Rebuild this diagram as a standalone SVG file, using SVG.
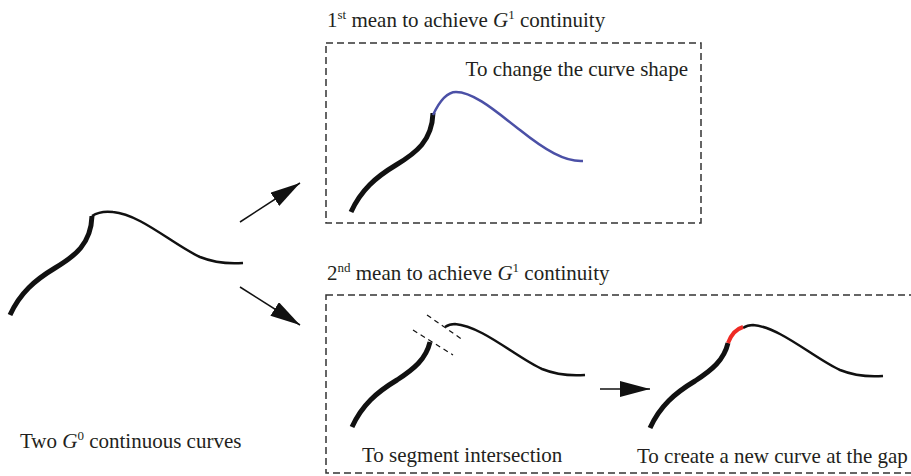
<svg xmlns="http://www.w3.org/2000/svg" width="911" height="476" viewBox="0 0 911 476">
<style>
text{font-family:"Liberation Serif","Times New Roman",serif;font-size:21px;fill:#231f20}
.sup{font-size:13px}
.thick{fill:none;stroke:#111;stroke-width:5;stroke-linecap:butt}
.thin{fill:none;stroke:#111;stroke-width:2.5}
.box{fill:none;stroke:#333;stroke-width:1.5;stroke-dasharray:7 4}
.arr{stroke:#111;stroke-width:1.5;fill:none}
.cut{stroke:#111;stroke-width:1.2;stroke-dasharray:5 4}
</style>
<defs>
<marker id="ah" markerUnits="userSpaceOnUse" markerWidth="32" markerHeight="18" refX="30" refY="8" orient="auto">
<path d="M0,0 L30,8 L0,16 z" fill="#111"/>
</marker>
<path id="thickFull" d="M10,315 C20,293 35,280 55,268 C75,256 91,244 92,216"/>
<path id="thinFull" d="M92,216 C98,212 105,211 113,212 C140,214 175,246 200,257 C215,263 230,264 243,263"/>
<path id="thickCut" d="M10,315 C20,293 35,280 55,268 C72,257 84,247 88,230"/>
<path id="thinCut" d="M103,215 C106,213 110,212 113,212 C140,214 175,246 200,257 C215,263 230,264 243,263"/>
</defs>

<g id="source">
<use href="#thickFull" class="thick"/>
<use href="#thinFull" class="thin"/>
<text x="20" y="448">Two <tspan font-style="italic">G</tspan><tspan class="sup" dy="-8">0</tspan><tspan dy="8"> continuous curves</tspan></text>
</g>

<g id="mean1">
<rect class="box" x="326" y="43" width="375" height="180"/>
<text x="327" y="27">1<tspan class="sup" dy="-8">st</tspan><tspan dy="8"> mean to achieve </tspan><tspan font-style="italic">G</tspan><tspan class="sup" dy="-8">1</tspan><tspan dy="8"> continuity</tspan></text>
<text x="688" y="76" text-anchor="end">To change the curve shape</text>
<g transform="translate(341,-103)"><use href="#thickFull" class="thick"/></g>
<path d="M433,115 C440,100 447,92 456,92 C475,92 500,115 520,130 C545,150 565,162 583,161" fill="none" stroke="#4b50a6" stroke-width="2.5"/>
</g>

<g id="mean2">
<rect class="box" x="326" y="295" width="600" height="178"/>
<text x="327" y="280">2<tspan class="sup" dy="-8">nd</tspan><tspan dy="8"> mean to achieve </tspan><tspan font-style="italic">G</tspan><tspan class="sup" dy="-8">1</tspan><tspan dy="8"> continuity</tspan></text>
</g>

<g id="segment">
<g transform="translate(342,112)">
<use href="#thickCut" class="thick"/>
<use href="#thinCut" class="thin"/>
</g>
<line class="cut" x1="427" y1="315" x2="463" y2="340"/>
<line class="cut" x1="413" y1="330" x2="453" y2="355"/>
<text x="362" y="462">To segment intersection</text>
</g>

<g id="newcurve">
<g transform="translate(640,113)">
<use href="#thickCut" class="thick"/>
<use href="#thinCut" class="thin"/>
<path d="M88,230 C91,222 96,216 103,214" fill="none" stroke="#ee2a24" stroke-width="4"/>
</g>
<text x="637" y="463">To create a new curve at the gap</text>
</g>

<g id="connectors">
<line class="arr" x1="240" y1="222" x2="300" y2="183" marker-end="url(#ah)"/>
<line class="arr" x1="240" y1="287" x2="300" y2="325" marker-end="url(#ah)"/>
<line class="arr" x1="600" y1="389" x2="650" y2="389" marker-end="url(#ah)"/>
</g>
</svg>
